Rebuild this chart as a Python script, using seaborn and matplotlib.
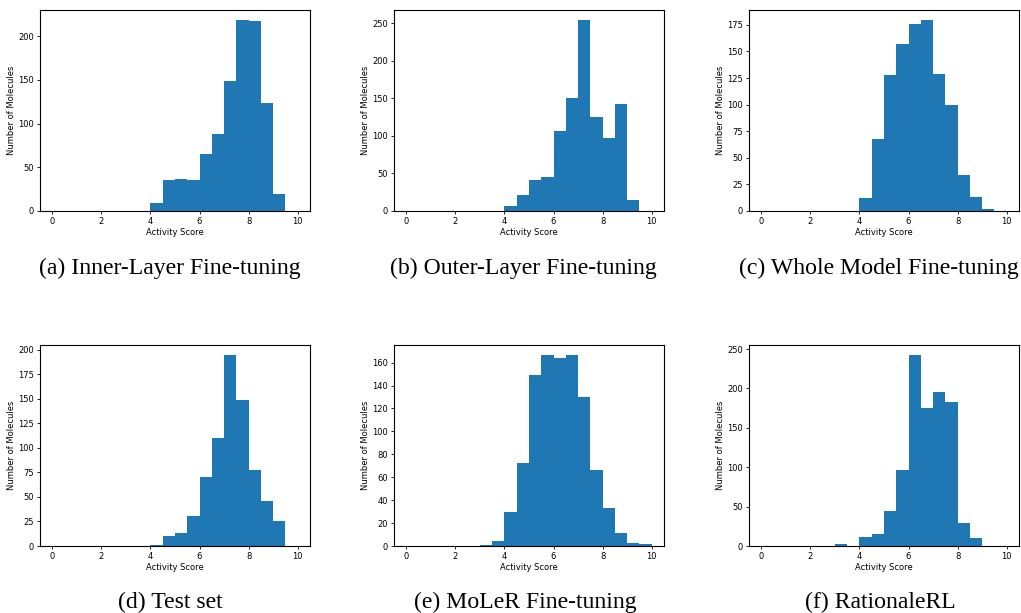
import numpy as np
import pandas as pd
import seaborn as sns
import matplotlib.pyplot as plt

# histogram bins: 20 bins of width 0.5 on [0, 10]
bin_edges = np.linspace(0, 10, 21)
bin_centers = (bin_edges[:-1] + bin_edges[1:]) / 2

# counts per bin
inner_layer = [0, 0, 0, 0, 0, 0, 0, 0, 9, 36, 37, 36, 65, 88, 149, 219, 217, 124, 20, 0]
outer_layer = [0, 0, 0, 0, 0, 0, 0, 0, 6, 21, 41, 45, 107, 150, 255, 125, 97, 142, 14, 0]
whole_model = [0, 0, 0, 0, 0, 0, 0, 0, 12, 68, 128, 157, 176, 180, 129, 100, 34, 13, 2, 0]
test_set = [0, 0, 0, 0, 0, 0, 0, 0, 1, 10, 13, 31, 70, 110, 195, 149, 77, 46, 25, 0]
moler = [0, 0, 0, 0, 0, 0, 1, 4, 30, 72, 149, 167, 164, 167, 130, 66, 33, 11, 3, 2]
rationale_rl = [0, 0, 0, 0, 0, 0, 2, 0, 12, 15, 44, 96, 243, 175, 195, 183, 29, 10, 0, 0]

captions = ["(a) Inner-Layer Fine-tuning", "(b) Outer-Layer Fine-tuning",
            "(c) Whole Model Fine-tuning", "(d) Test set",
            "(e) MoLeR Fine-tuning", "(f) RationaleRL"]
all_counts = [inner_layer, outer_layer, whole_model, test_set, moler, rationale_rl]

fig = plt.figure(figsize=(10.21, 6.13), dpi=100)
W, H = 1021, 613
lefts = [40, 394, 749]
tops = [10, 345]
aw, ah = 270, 201
cap_x = [170, 523, 879, 170, 525, 880]
cap_y = [268, 602]

for i, (counts, cap) in enumerate(zip(all_counts, captions)):
    r, c = divmod(i, 3)
    ax = fig.add_axes([lefts[c] / W, 1 - (tops[r] + ah) / H, aw / W, ah / H])
    df = pd.DataFrame({"score": bin_centers, "n": counts})
    sns.histplot(data=df, x="score", weights="n", binwidth=0.5, binrange=(0, 10), ax=ax,
                 color="#1f77b4", alpha=1, edgecolor="none", linewidth=0)
    ax.set_xlim(-0.5, 10.5)
    ax.set_xticks([0, 2, 4, 6, 8, 10])
    ax.set_xlabel("Activity Score", fontsize=6, labelpad=1.5)
    ax.set_ylabel("Number of Molecules", fontsize=6, labelpad=1.5)
    ax.tick_params(labelsize=6, length=2.5, width=0.6, pad=2)
    for s in ax.spines.values():
        s.set_linewidth(0.8)
    fig.text(cap_x[i] / W, 1 - cap_y[r] / H, cap,
             ha="center", va="center", fontsize=17.1, family="Liberation Serif")

fig.savefig("out.png", dpi=100)
